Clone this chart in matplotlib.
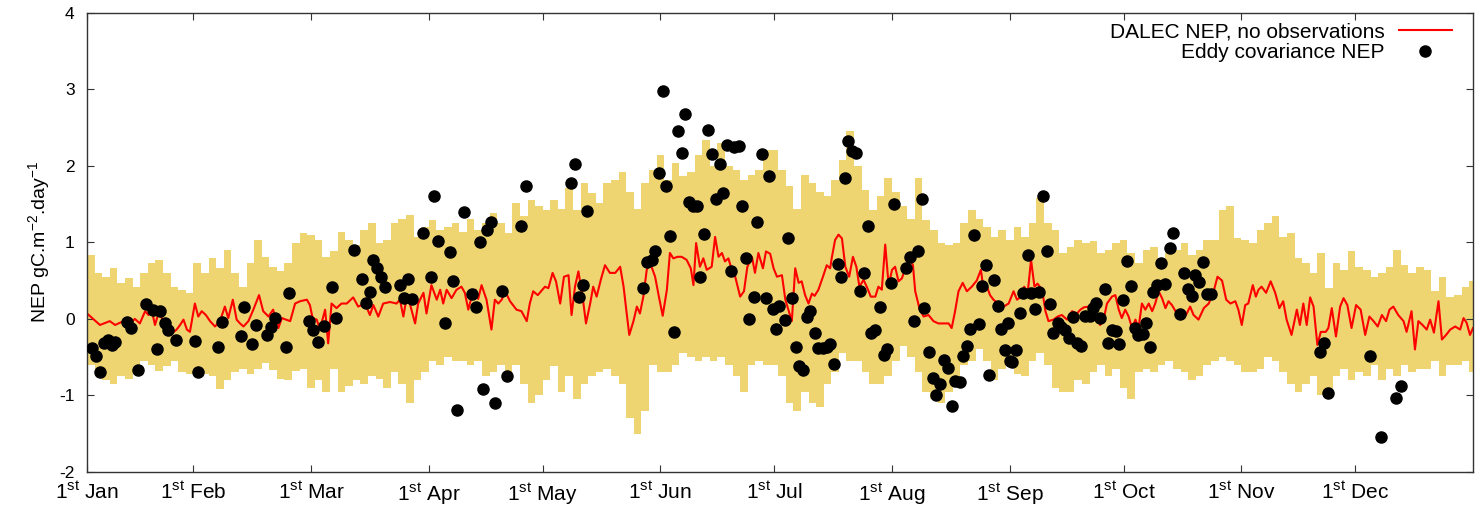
import numpy as np
import matplotlib
matplotlib.use("Agg")
import matplotlib.pyplot as plt
from matplotlib.lines import Line2D

plt.rcParams["font.family"] = ["Liberation Sans", "DejaVu Sans"]
plt.rcParams["mathtext.fontset"] = "custom"
plt.rcParams["mathtext.rm"] = "Liberation Sans"
plt.rcParams["mathtext.it"] = "Liberation Sans:italic"
plt.rcParams["axes.unicode_minus"] = False

# yellow uncertainty band, 2-day bins starting at day 0
band_days = np.arange(0, 366, 2)
band_upper = [
    0.84, 0.6, 0.55, 0.66, 0.47, 0.53, 0.42, 0.6, 0.73, 0.77, 0.6, 0.42, 0.38, 0.34, 0.73,
    0.6, 0.79, 0.66, 0.9, 0.6, 0.42, 0.73, 1.03, 0.81, 0.68, 0.62, 0.73, 0.99, 1.12, 1.1,
    1.03, 0.81, 0.88, 1.14, 1.03, 0.97, 1.16, 1.25, 0.99, 1.03, 1.25, 1.31, 1.36, 1.07, 1.2,
    1.29, 1.16, 1.2, 1.25, 1.14, 1.31, 1.16, 1.25, 1.38, 1.25, 1.12, 1.51, 1.34, 1.55, 1.47,
    1.42, 1.55, 1.44, 1.71, 1.42, 1.77, 1.64, 1.51, 1.77, 1.81, 1.92, 1.66, 1.44, 1.77, 1.95,
    2.14, 1.81, 2.03, 1.86, 1.92, 2.14, 2.34, 1.99, 2.29, 1.99, 1.95, 1.81, 1.88, 1.95, 2.21,
    2.2, 1.95, 1.73, 1.44, 1.88, 1.77, 1.66, 1.6, 1.81, 2.08, 2.45, 1.99, 1.68, 1.42, 1.6,
    1.84, 1.66, 1.47, 1.31, 1.84, 1.29, 1.16, 0.99, 0.97, 0.99, 1.25, 1.42, 1.31, 1.2, 1.07,
    1.16,
    1.03, 1.2, 1.07, 1.25, 1.58, 1.25, 1.16, 0.86, 0.94, 1.03, 0.99, 1.01, 0.86, 0.9, 0.99,
    1.03, 0.86, 0.73, 0.9, 0.94, 0.79, 0.86, 0.9, 0.99, 0.84, 0.9, 1.03, 1.03, 1.42, 1.47,
    1.05, 1.03, 0.99, 1.16, 1.25, 1.34, 1.07, 1.12, 0.79, 0.73, 0.6, 0.86, 0.4, 0.73, 0.64,
    0.88, 0.68, 0.64, 0.55, 0.6, 0.68, 0.9, 0.7, 0.6, 0.68, 0.64, 0.36, 0.55, 0.29, 0.31,
    0.42, 0.49,
]
band_lower = [
    -0.6, -0.75, -0.8, -0.85, -0.75, -0.78, -0.72, -0.55, -0.6, -0.68, -0.62, -0.55, -0.7, -0.72, -0.65,
    -0.72, -0.75, -0.92, -0.8, -0.7, -0.65, -0.72, -0.65, -0.58, -0.67, -0.78, -0.8, -0.68, -0.65, -0.9,
    -0.8, -0.95, -0.65, -0.95, -0.88, -0.8, -0.85, -0.75, -0.78, -0.9, -0.7, -0.85, -1.1, -0.8, -0.7,
    -0.55, -0.6, -0.5, -0.55, -0.55, -0.6, -0.55, -0.75, -0.7, -0.6, -0.7, -0.6, -0.85, -1.1, -1.0,
    -0.8, -0.62, -0.95, -0.75, -1.05, -0.85, -0.75, -0.7, -0.65, -0.75, -0.85, -1.3, -1.5, -1.2, -0.6,
    -0.7, -0.7, -0.6, -0.45, -0.5, -0.55, -0.5, -0.55, -0.5, -0.6, -0.75, -0.95, -0.6, -0.55, -0.6,
    -0.6, -0.75, -1.1, -1.2, -0.95, -1.1, -1.15, -0.85, -0.7, -0.45, -0.55, -0.55, -0.7, -0.85, -0.85,
    -0.75, -0.55, -0.35, -0.5, -0.7, -0.95, -1.05, -1.1, -0.95, -0.85, -0.6, -0.55, -0.4, -0.55, -0.8,
    -0.65,
    -0.6, -0.72, -0.75, -0.55, -0.45, -0.6, -0.9, -0.95, -0.95, -0.8, -0.85, -0.7, -0.6, -0.75, -0.65,
    -0.9, -1.05, -0.7, -0.65, -0.7, -0.6, -0.55, -0.65, -0.7, -0.8, -0.75, -0.6, -0.55, -0.5, -0.55,
    -0.6, -0.7, -0.7, -0.65, -0.5, -0.55, -0.7, -0.85, -0.95, -0.85, -0.75, -1.0, -0.95, -0.75, -0.65,
    -0.8, -0.7, -0.75, -0.6, -0.8, -0.65, -0.75, -0.6, -0.7, -0.65, -0.65, -0.55, -0.75, -0.6, -0.6,
    -0.55, -0.7,
]

# DALEC NEP (red line)
model_days = [
    0, 3.4, 6, 7.4, 9.6, 10.9, 12.6, 13.9, 15.3, 16.2, 17, 17.9, 18.8, 19.7, 21, 22.3, 23.6, 24.5,
    25.4, 26.3, 27.1, 28.4, 29.3, 30.2, 31.3, 32.4, 33.7, 35, 36.3, 37.2, 38.4, 39.4, 40.3, 41.2,
    42.5, 43.8, 45.3, 46.4, 47.8, 49, 50.4, 51.3, 53.5, 54.8, 56.1, 57.9, 58.7, 59.4, 60.5,
    61.3, 62.7, 63.5, 64.4, 65.7, 67, 68.4, 70.1, 71.4, 73.2, 74.5, 75.4, 76.7, 78, 79.8, 81.5,
    82.4, 83.3, 84.2, 85, 86.4, 87.2, 88.6, 89.4, 90.7, 92.1, 93, 93.8, 94.7, 96, 97.3, 98.6,
    99.5, 100.4, 101.3, 102.3, 103, 103.9, 105.2, 106.5, 107.4, 108.3, 109.2, 110.1, 111.4,
    113.1, 114.4, 115.8, 116.6, 117.5, 118.7,
    120.6, 121.5, 122.6, 123.5, 124.6, 125.6, 126.8, 127.6, 128.5, 129.4, 130.5, 131.4, 132.5,
    133.3, 134.2, 135.3, 136.4, 137.7, 139.1, 140.4, 141.3, 142, 142.8, 143.9, 144.8, 145.6,
    146.5, 147.4, 148.3, 149.6, 150.6, 151.6, 152.7, 153.5, 154.4, 155.5, 156.6, 157.9, 159,
    159.7, 160.4, 161.4, 162.3, 163.2, 164.5, 165.4, 166.3, 167.2, 168, 168.9, 169.8, 170.7,
    172, 173, 173.9, 175.1, 175.9, 176.8, 178, 178.8, 179.9, 180.8, 181.7, 183, 183.9, 184.7,
    185.6, 186.5, 187.4, 188.2, 189.1, 190, 190.9, 191.6, 192.6, 193.8, 194.8, 195.7, 196.1,
    197, 197.9, 198.8, 199.7, 200.7, 201.7, 202.6, 203.4, 204.5, 205.5, 206.4, 207.6, 208.4,
    209.3, 210.2, 211.1, 212, 212.8, 213.7, 214.6, 215.5, 216.6, 217.5, 218.1, 219.2, 220.3,
    221.6, 222.9, 224.2, 225.6, 226.9, 227.7, 228.6, 229.5, 230.6, 231.7, 233, 234.3, 235.4,
    236.1, 237, 237.8, 238.7, 240, 241.4, 242.7, 244, 244.9, 246, 246.8, 247.7, 248.6, 249.5,
    250.3, 251.5, 252.4, 253.2, 254.5, 255.6, 256.7, 258.1, 259.4, 260.7, 261.6, 262.5, 263.8,
    265.1, 266, 266.8, 267.7, 268.6, 269.9, 270.8, 271.7, 272.5, 273.4, 274.3, 275.2, 276.1,
    276.9, 277.8, 278.7, 279.6, 280.5, 281.3, 282.2, 283.1, 284, 284.8, 285.7, 287, 288.4,
    289.4, 290.5, 291.4, 292.7, 294.1, 295.4, 296.7, 297.7, 298.9, 300, 301.1, 302.4, 303.2,
    304.1, 305, 305.8, 307, 307.8, 308.5, 309.3, 310.5, 311.7, 312.9, 314, 315, 315.9, 317.2,
    318.6, 319.4, 320.3, 321.2, 322.1, 323, 324, 324.9, 326.2, 326.9, 327.8, 328.9, 330, 330.9,
    331.9, 333, 334.2, 335.4, 336.6, 337.7, 338.8, 339.9, 341, 342.1, 343, 344, 345.3, 346.7,
    347.5, 348.8, 349.7, 350.6, 351.7, 352.8, 353.7, 354.7, 355.9, 356.8, 357.9, 359, 360.3,
    361.6, 362.5, 363.3, 364.2, 365,
]
model_nep = [
    0.07, -0.08, -0.03, -0.08, -0.03, -0.09, 0.0, -0.06, 0.10, 0.05, 0.12, -0.08, 0.07, 0.01, -0.08, -0.19, -0.14, -0.08,
    -0.01, -0.14, -0.17, 0.2, 0.03, 0.10, 0.05, -0.03, -0.1, -0.03, 0.16, 0.01, 0.25, -0.01, -0.06, -0.1,
    -0.03, 0.12, 0.31, 0.1, 0.03, 0.12, -0.12, 0.01, -0.03, 0.2, 0.23, 0.25, 0.18, 0.01, -0.01,
    -0.14, 0.12, -0.32, 0.2, 0.14, 0.2, 0.2, 0.28, 0.16, 0.2, 0.05, 0.18, 0.03, 0.2, 0.22, 0.2,
    0.25, 0.03, 0.29, 0.2, -0.06, 0.2, 0.34, 0.07, 0.44, 0.25, 0.38, 0.2, 0.38, 0.27, 0.38, 0.42,
    0.34, 0.12, 0.29, 0.38, 0.26, 0.44, 0.25, -0.14, 0.25, 0.2, 0.25, 0.36, 0.23,
    0.12, 0.1, -0.03, 0.2, 0.36, 0.31,
    0.42, 0.40, 0.6, 0.49, 0.2, 0.55, 0.57, 0.05, 0.42, 0.62, 0.29, -0.06, 0.2,
    0.42, 0.29, 0.51, 0.70, 0.6, 0.6, 0.68, 0.42, 0.12, -0.21, -0.03, 0.16, 0.07,
    0.29, 0.64, 0.73, 0.55, 0.29, 0.04, 0.38, 0.86, 0.79, 0.81, 0.81, 0.77, 0.66,
    0.44, 0.99, 0.68, 0.79, 0.64, 0.68, 1.07, 0.81, 0.86, 0.75, 0.79, 0.64, 0.55,
    0.29, 0.36, 0.68, 0.81, 0.6, 0.86, 0.66, 0.88, 0.85, 0.66, 0.55, 0.57, 0.25, 0.12,
    -0.03, 0.66, 0.47, 0.49, 0.31, 0.2, 0.33, 0.3, 0.38, 0.55, 0.7, 0.66, 0.79,
    1.03, 1.10, 1.05, 0.68, 0.55, 0.81, 0.68, 0.42, 0.51, 0.40, 0.29, 0.29, 0.42,
    0.38, 0.97, 0.44, 0.64, 0.68, 0.49, 0.53, 0.66, 0.79, 0.70, 0.36, 0.14, 0.03,
    0.05, -0.03, -0.06, -0.06, -0.06, -0.12, 0.1, 0.36, 0.47, 0.36, 0.42, 0.5, 0.64,
    0.38, 0.42, 0.31, 0.25, 0.2, 0.16, 0.2, 0.36, 0.25, 0.29, 0.42, 0.33, 0.77, 0.42,
    0.46, 0.38, 0.10, -0.03, -0.01, 0.03, 0.05, -0.01, 0.1, 0.07, 0.12, 0.15, 0.16,
    0.05, 0.01, -0.08, -0.01, 0.2, 0.29, 0.31, 0.12, 0.01, 0.12, 0.03, -0.12, -0.01,
    -0.12, 0.2, 0.12, 0.2, 0.1, 0.2, 0.36, 0.27, 0.14, 0.23, 0.18, 0.07, 0.03,
    0.05, 0.16, 0.05, -0.01, 0.14, 0.2, 0.36, 0.55, 0.5, 0.25, 0.2, 0.23, 0.12,
    -0.08, 0.18, 0.2, 0.44, 0.29, 0.38, 0.42, 0.34, 0.49, 0.34, 0.14, 0.23, -0.01, -0.21,
    0.12, -0.08, 0.2, -0.08, 0.28, 0.16, -0.34, -0.17, -0.17, -0.12, 0.14, -0.23, 0.16, 0.27,
    0.18, -0.12, 0.18, 0.12, -0.21, 0.03, -0.03, -0.10, 0.05, -0.03, 0.12, 0.16, 0.05, -0.03,
    -0.17, 0.10, -0.40, -0.03, -0.08, -0.14, -0.01, -0.18, 0.23, -0.27, -0.21, -0.14, -0.1,
    -0.14, 0.01, -0.05, -0.21, -0.12,
]

# Eddy covariance observations (black dots)
obs_days = [
    1.4, 2.3, 3.4, 4.5, 5.6, 6.5, 7.4, 10.4, 11.5, 13.3, 15.5, 17.3, 18.3, 19.2, 20.5, 21.4,
    23.4, 28.4, 29.3, 34.4, 35.5, 40.5, 41.4, 43.5, 44.4, 47.5, 48.4, 49.5, 52.4, 53.3, 58.5,
    59.6, 60.7, 62.5, 64.4, 65.5, 70.4, 72.5, 73.5, 74.5, 75.4, 76.4, 77.4, 78.5, 82.4, 83.5,
    84.4, 85.5, 88.6, 90.5, 91.5, 92.5, 94.3, 95.6, 96.5, 97.4, 99.4, 101.5, 102.4, 103.5,
    104.4, 105.4, 106.5, 107.5, 109.4, 110.5, 114.4, 115.6,
    127.5, 128.5, 129.6, 130.5, 131.6, 146.5, 147.4, 148.7, 149.6, 150.5, 151.6, 152.5, 153.5,
    154.6, 155.6, 156.6, 157.5, 158.4, 159.5, 160.6, 161.4, 162.5, 163.6, 164.5, 165.6, 166.7,
    167.6, 168.5, 169.6, 170.5, 171.7, 172.6, 173.6, 174.4, 175.7, 176.5, 177.7, 178.7, 179.7,
    180.6, 181.5, 182.3, 183.7, 184.7, 185.6, 186.7, 187.5, 188.5, 189.7, 190.4, 191.6, 192.6,
    193.7, 194.8, 195.7, 196.6, 197.7, 198.6, 199.7, 200.5, 201.4, 202.6, 203.6, 204.7, 205.6,
    206.5, 207.6, 208.7, 209.8, 210.6, 211.7, 212.6, 215.6, 216.6, 217.7, 218.8, 219.8, 220.5,
    221.8, 222.7, 223.5, 224.7, 225.6, 226.7, 227.7, 228.6, 229.8, 230.7, 231.7, 232.6, 233.7,
    235.0, 235.7, 236.8, 237.6, 238.9, 239.9, 240.7, 241.8, 242.5, 243.1, 243.7, 244.6, 245.8,
    246.6, 247.7, 248.6, 249.7, 250.6, 251.7, 252.8, 253.7, 254.5, 255.6, 256.6, 257.6, 258.5,
    259.6, 260.7, 261.7, 262.9, 264.0, 264.9, 265.8, 266.8, 268.0, 268.9, 269.9, 271.0, 271.8,
    272.8, 273.9, 274.9, 275.9, 276.8, 278.0, 279.0, 280.0, 280.7, 281.8, 282.9, 284.0, 285.1,
    286.0, 287.9, 288.8, 289.9, 291.0, 291.9, 292.9, 293.8, 294.9, 296.1,
    324.7, 325.8, 326.7, 337.9, 340.8, 344.7, 346.0,
]
obs_nep = [
    -0.38, -0.49, -0.70, -0.31, -0.27, -0.34, -0.30, -0.04, -0.12, -0.67, 0.20, 0.12, -0.40, 0.10, -0.06, -0.14,
    -0.28, -0.29, -0.69, -0.37, -0.04, -0.22, 0.16, -0.33, -0.08, -0.21, -0.10, 0.01, -0.37, 0.34, -0.03,
    -0.14, -0.30, -0.09, 0.42, 0.01, 0.90, 0.52, 0.21, 0.35, 0.77, 0.67, 0.54, 0.41, 0.44, 0.27,
    0.52, 0.26, 1.12, 0.55, 1.61, 1.01, -0.05, 0.87, 0.50, -1.19, 1.39, 0.33, 0.15, 1.00,
    -0.91, 1.16, 1.27, -1.10, 0.36, -0.74, 1.21, 1.74,
    1.77, 2.02, 0.29, 0.44, 1.41, 0.40, 0.74, 0.77, 0.88, 1.90, 2.97, 1.74, 1.08,
    -0.17, 2.45, 2.17, 2.68, 1.52, 1.47, 1.48, 0.55, 1.11, 2.46, 2.15, 1.57, 2.02,
    1.64, 2.27, 0.63, 2.25, 2.26, 1.47, 0.79, 0.00, 0.29, 1.27, 2.15, 0.27, 1.87,
    0.13, -0.13, 0.17, -0.02, 1.06, 0.27, -0.37, -0.61, -0.67, 0.02, 0.10, -0.18, -0.38,
    -0.38, -0.37, -0.33, -0.59, 0.71, 0.54, 1.84, 2.32, 2.19, 2.16, 0.37, 0.60, 1.21,
    -0.19, -0.14, 0.15, -0.47, -0.40, 0.47, 1.50, 0.67, 0.81, -0.03, 0.89, 1.57, 0.14,
    -0.43, -0.77, -0.99, -0.85, -0.54, -0.64, -1.14, -0.81, -0.83, -0.48, -0.35, -0.13, 1.09,
    -0.07, 0.43, 0.70, -0.73, 0.51, 0.17, -0.13, -0.41, -0.05, -0.55, -0.56, -0.41, 0.07,
    0.34, 0.84, 0.34, 0.13, 0.35, 1.60, 0.89, 0.20, -0.18, -0.06, -0.10, -0.14, -0.25,
    0.02, -0.32, -0.36, 0.04, 0.04, 0.14, 0.21, 0.01, 0.39, -0.31, -0.14, -0.16, -0.33,
    0.24, 0.76, 0.43, -0.12, -0.21, -0.20, -0.05, -0.37, 0.35, 0.44, 0.73, 0.45, 0.93,
    1.12, 0.06, 0.60, 0.39, 0.30, 0.57, 0.48, 0.74, 0.33, 0.33,
    -0.43, -0.32, -0.97, -0.48, -1.54, -1.04, -0.88,
]

tick_days = [0, 28, 59, 90, 120, 151, 181, 212, 243, 273, 304, 334]
tick_months = ["Jan", "Feb", "Mar", "Apr", "May", "Jun", "Jul", "Aug", "Sep", "Oct", "Nov", "Dec"]

fig = plt.figure(figsize=(14.8, 5.11), dpi=100)
ax = fig.add_axes([0.0588, 0.0763, 0.9365, 0.8992])

edges = np.append(band_days, 366)
up = np.append(band_upper, band_upper[-1])
lo = np.append(band_lower, band_lower[-1])
ax.fill_between(edges, lo, up, step="post", color="#eed572", linewidth=0, zorder=1)
ax.plot(model_days, model_nep, color="#ff0000", linewidth=1.5, zorder=2)
ax.plot(obs_days, obs_nep, "o", color="black", markersize=8, zorder=3)

ax.set_xlim(0, 365)
ax.set_ylim(-2, 4)
ax.set_xticks(tick_days)
ax.set_xticklabels([r"1$^{\mathrm{st}}$ " + m for m in tick_months], fontsize=15)
ax.set_yticks(range(-2, 5))
ax.tick_params(direction="in", top=True, right=True, length=5, width=0.8, color="#333333")
ax.tick_params(axis="y", labelsize=12.5, pad=9)
ax.tick_params(axis="x", pad=7)
for s in ax.spines.values():
    s.set_color("#333333")
    s.set_linewidth(1.0)
ax.set_ylabel(r"NEP gC.m$^{-2}$.day$^{-1}$", fontsize=14)
ax.yaxis.set_label_coords(-0.025, 0.5)

handles = [
    Line2D([], [], color="#ff0000", linewidth=1.5),
    Line2D([], [], linestyle="none", marker="o", color="black", markersize=8),
]
ax.legend(handles, ["DALEC NEP, no observations", "Eddy covariance NEP"],
          loc="upper right", bbox_to_anchor=(0.995, 1.011), frameon=False,
          markerfirst=False, fontsize=15, handlelength=2.5, handletextpad=0.7,
          labelspacing=0.1, borderaxespad=0.3)

fig.savefig("out.png", dpi=100)
